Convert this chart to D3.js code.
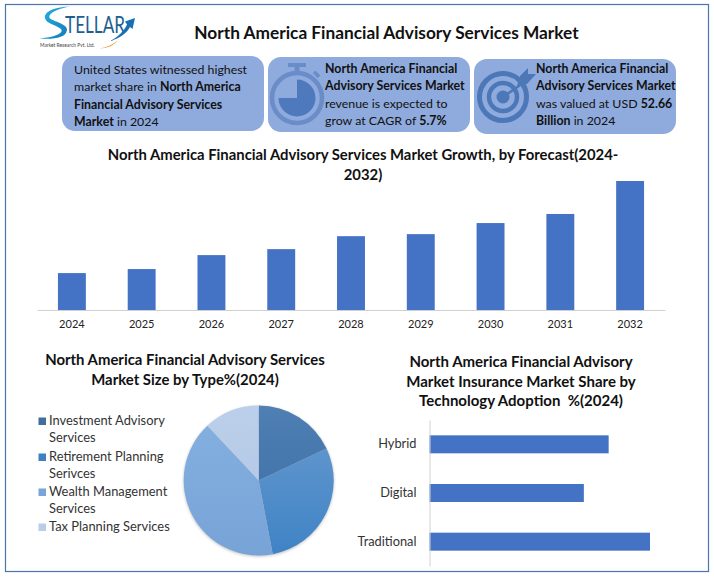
<!DOCTYPE html>
<html>
<head>
<meta charset="utf-8">
<script src="https://cdnjs.cloudflare.com/ajax/libs/d3/7.8.5/d3.min.js"></script>
<style>
  html, body { margin: 0; padding: 0; background: #fff; }
  svg { display: block; }
  text { font-family: Lato, "Open Sans", sans-serif; fill: #111; }
</style>
</head>
<body>
<div id="chart"></div>
<script>
var years = ['2024', '2025', '2026', '2027', '2028', '2029', '2030', '2031', '2032'];
var growthValues = [52.66, 58.4, 78.3, 86.8, 105.3, 108.2, 124, 137, 184];

var pieTypes = ['Investment Advisory Services', 'Retirement Planning Serivces', 'Wealth Management Services', 'Tax Planning Services'];
var pieValues = [18, 29, 41, 12];

var adoptionLabels = ['Hybrid', 'Digital', 'Traditional'];
var adoptionValues = [32.5, 28, 40];

var w = 714, h = 578;
var barBlue = '#4472c4';

var svg = d3.select('#chart').append('svg').attr('width', w).attr('height', h);
var defs = svg.append('defs');

svg.append('rect').attr('width', w).attr('height', h).attr('fill', '#fff');
svg.append('rect').attr('x', 5.5).attr('y', 4.5).attr('width', 703).attr('height', 567)
  .attr('fill', 'none').attr('stroke', '#4a76ab').attr('stroke-width', 1.2);

// helper for multi line text, parts marked with * are bold
function richLine(x, y, size, parts) {
  var t = svg.append('text').attr('x', x).attr('y', y).attr('font-size', size);
  parts.forEach(function(p) {
    var bold = p.charAt(0) === '*';
    t.append('tspan').attr('font-weight', bold ? 700 : 400).text(bold ? p.slice(1) : p);
  });
  return t;
}

function centered(x, y, size, str) {
  return svg.append('text').attr('x', x).attr('y', y).attr('text-anchor', 'middle')
    .attr('font-size', size).attr('font-weight', 700).text(str);
}

// logo
var logo = svg.append('g');
var sGrad = defs.append('linearGradient').attr('id', 'sGrad').attr('x1', 0).attr('x2', 1).attr('y1', 0).attr('y2', 1);
sGrad.append('stop').attr('offset', 0).attr('stop-color', '#22b5e0');
sGrad.append('stop').attr('offset', 1).attr('stop-color', '#1479b8');
logo.append('path')
  .attr('d', 'M70,6.5 C56,7 44,11 45,18 C46,24 57,25 61,29 C64,33 56,37 39,38.5 C54,39.5 66,38 67,30 C67.5,24 55,22 50,18.5 C47,14 56,9 70,6.5 Z')
  .attr('fill', 'url(#sGrad)');
logo.append('text').attr('x', 65).attr('y', 33).attr('font-size', 24)
  .attr('textLength', 60).attr('lengthAdjust', 'spacingAndGlyphs')
  .style('fill', '#1f5f8f').text('TELLAR');
logo.append('path')
  .attr('d', 'M135,18 L125,21.5 L127,24.5 C124,31 118,37 110,41 C119,39 127,33 130,27 L132.5,29 Z')
  .attr('fill', '#1b6fb0');
logo.append('path')
  .attr('d', 'M99,48.5 C106,47.5 113,44.5 118,40.5 C114,45.5 107,48.5 99,48.5 Z')
  .attr('fill', '#e8a14a');
logo.append('text').attr('x', 40).attr('y', 47).attr('font-size', 4.9)
  .style('fill', '#444').text('Market Research Pvt. Ltd.');

// main title
centered(386.5, 38.5, 17.3, 'North America Financial Advisory Services Market');

// info cards
var cardX = [62, 268, 474];
var cardY = [56, 57, 59];
svg.selectAll('rect.card').data(cardX).enter().append('rect')
  .attr('class', 'card')
  .attr('x', function(d) { return d; })
  .attr('y', function(d, i) { return cardY[i]; })
  .attr('width', 202).attr('height', 75).attr('rx', 13)
  .attr('fill', '#8faadc');

var iconBlue = '#4d78b8';
// stopwatch
var watch = svg.append('g').attr('transform', 'translate(297,98)').attr('fill', '#6a8cc8');
watch.append('circle').attr('r', 25).attr('fill', 'none').attr('stroke', '#6a8cc8').attr('stroke-width', 4.5);
watch.append('path').attr('d', d3.arc()({ innerRadius: 0, outerRadius: 18.5, startAngle: 0, endAngle: Math.PI * 1.5 })).attr('fill', '#4f79bd');
watch.append('rect').attr('x', -9).attr('y', -35).attr('width', 18).attr('height', 4);
watch.append('rect').attr('x', -2.5).attr('y', -32).attr('width', 5).attr('height', 6);
watch.append('rect').attr('x', 16).attr('y', -26).attr('width', 7).attr('height', 3.5).attr('transform', 'rotate(45 19 -24)');

// target
var target = svg.append('g').attr('transform', 'translate(503,97)');
target.append('circle').attr('r', 23.5).attr('fill', 'none').attr('stroke', iconBlue).attr('stroke-width', 5);
target.append('circle').attr('r', 14).attr('fill', 'none').attr('stroke', iconBlue).attr('stroke-width', 4.5);
target.append('circle').attr('r', 6.5).attr('fill', iconBlue);
target.append('line').attr('x1', 0).attr('y1', 0).attr('x2', 20).attr('y2', -14).attr('stroke', iconBlue).attr('stroke-width', 2.5);
target.append('path').attr('d', 'M14,-11 L17,-21 L25,-29 L25,-23 L33,-23 L24,-13 Z').attr('fill', iconBlue);

var card1 = [['United States witnessed highest'], ['market share in ', '*North America'], ['*Financial Advisory Services'], ['*Market', ' in 2024']];
var card2 = [['*North America Financial'], ['*Advisory Services Market'], ['revenue is expected to'], ['grow at CAGR of ', '*5.7%']];
var card3 = [['*North America Financial'], ['*Advisory Services Market'], ['was valued at USD ', '*52.66'], ['*Billion', ' in 2024']];
var cardTextX = [74, 325, 536];
var cardBase = [73.5, 72.5, 72.5];
[card1, card2, card3].forEach(function(lines, c) {
  lines.forEach(function(parts, i) {
    richLine(cardTextX[c], cardBase[c] + i * 17.6, 12.35, parts);
  });
});

// growth bar chart
centered(363, 160, 14.85, 'North America Financial Advisory Services Market Growth, by Forecast(2024-');
centered(363, 180, 14.85, '2032)');

var xGrowth = d3.scaleBand().domain(years).range([37, 665]).paddingInner(0.6).paddingOuter(0.3);
var yGrowth = d3.scaleLinear().domain([0, 184]).range([310, 181]);

svg.selectAll('rect.growth').data(growthValues).enter().append('rect')
  .attr('class', 'growth')
  .attr('x', function(d, i) { return xGrowth(years[i]); })
  .attr('y', function(d) { return yGrowth(d); })
  .attr('width', xGrowth.bandwidth())
  .attr('height', function(d) { return 310 - yGrowth(d); })
  .attr('fill', barBlue);

var growthAxis = svg.append('g').attr('transform', 'translate(0,310)')
  .call(d3.axisBottom(xGrowth).tickSize(0).tickPadding(10));
growthAxis.select('.domain').attr('stroke', '#d0d0d0');
growthAxis.selectAll('text').attr('font-size', 11).attr('font-family', 'Lato').style('fill', '#222');

// pie chart
centered(185, 365, 14.9, 'North America Financial Advisory Services');
centered(185, 385, 14.9, 'Market Size by Type%(2024)');

var pieColors = [['#4f7fb3', '#386ca4'], ['#6a9bd0', '#3f83c5'], ['#85b0e2', '#78a3d6'], ['#bccfea', '#aec5e4']];
pieColors.forEach(function(c, i) {
  var g = defs.append('linearGradient').attr('id', 'slice' + i)
    .attr('gradientUnits', 'userSpaceOnUse')
    .attr('x1', 0).attr('x2', 0).attr('y1', -75).attr('y2', 75);
  g.append('stop').attr('offset', 0).attr('stop-color', c[0]);
  g.append('stop').attr('offset', 1).attr('stop-color', c[1]);
});
var blur = defs.append('filter').attr('id', 'pieShadow').attr('x', '-10%').attr('y', '-10%').attr('width', '120%').attr('height', '120%');
blur.append('feGaussianBlur').attr('stdDeviation', 1.5);

var pie = d3.pie().sort(null);
var arc = d3.arc().innerRadius(0).outerRadius(75);
var pieG = svg.append('g').attr('transform', 'translate(258.7,480.5)');
pieG.append('circle').attr('cy', 1).attr('r', 75).attr('fill', '#8a8a8a').attr('opacity', 0.55).attr('filter', 'url(#pieShadow)');
pieG.selectAll('path').data(pie(pieValues)).enter().append('path')
  .attr('d', arc)
  .attr('fill', function(d, i) { return 'url(#slice' + i + ')'; });

// legend
var legendColors = ['#3f6f9f', '#3f82bf', '#78a6d8', '#b9cde8'];
var legendLines = [['Investment Advisory', 'Services'], ['Retirement Planning', 'Serivces'], ['Wealth Management', 'Services'], ['Tax Planning Services']];
var legendY = [421, 457, 492, 527];
pieTypes.forEach(function(name, i) {
  svg.append('rect').attr('x', 38.5).attr('y', legendY[i] - 3.5).attr('width', 7.5).attr('height', 7.5).attr('fill', legendColors[i]);
  legendLines[i].forEach(function(line, k) {
    svg.append('text').attr('x', 49).attr('y', legendY[i] + 3.5 + k * 17)
      .attr('font-size', 12.9).style('fill', '#333').text(line);
  });
});

// adoption bars
centered(521, 367, 15, 'North America Financial Advisory');
centered(521, 387, 15, 'Market Insurance Market Share by');
centered(521, 406, 15, 'Technology Adoption  %(2024)').style('white-space', 'pre');

var yAdopt = d3.scaleBand().domain(adoptionLabels).range([420, 566]).paddingInner(0.63).paddingOuter(0.315);
var xAdopt = d3.scaleLinear().domain([0, 40]).range([429.5, 650]);

svg.selectAll('rect.adopt').data(adoptionValues).enter().append('rect')
  .attr('class', 'adopt')
  .attr('x', xAdopt(0))
  .attr('y', function(d, i) { return yAdopt(adoptionLabels[i]); })
  .attr('width', function(d) { return xAdopt(d) - xAdopt(0); })
  .attr('height', yAdopt.bandwidth())
  .attr('fill', barBlue);

var adoptAxis = svg.append('g').attr('transform', 'translate(429.5,0)')
  .call(d3.axisLeft(yAdopt).tickSize(0).tickPadding(13));
adoptAxis.select('.domain').attr('stroke', '#d0d0d0');
adoptAxis.selectAll('text').attr('font-size', 12.8).attr('font-family', 'Lato').style('fill', '#333');
</script>
</body>
</html>
